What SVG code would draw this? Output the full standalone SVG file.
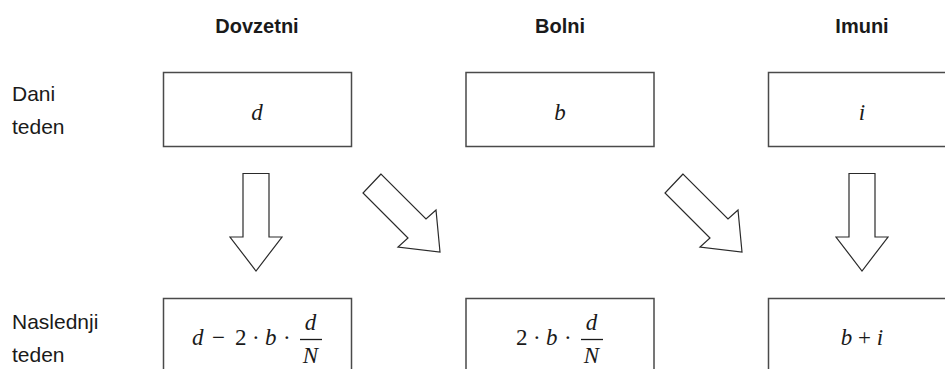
<svg xmlns="http://www.w3.org/2000/svg" width="945" height="369" viewBox="0 0 945 369">
<style>
.hdr{font-family:"Liberation Sans",Arial,sans-serif;font-weight:bold;font-size:20px;fill:#1a1a1a;text-anchor:middle}
.lbl{font-family:"Liberation Sans",Arial,sans-serif;font-size:21px;fill:#1a1a1a}
.box{fill:#fff;stroke:#4a4a4a;stroke-width:1.5}
.arr{fill:#fff;stroke:#2a2a2a;stroke-width:1.2;stroke-linejoin:miter}
.m{font-family:"Liberation Serif","Times New Roman",serif;font-size:23px;fill:#1a1a1a}
.mi{font-style:italic}
.bar{stroke:#1a1a1a;stroke-width:1.3}
</style>
<rect width="945" height="369" fill="#fff"/>
<g id="headers">
<text class="hdr" x="257" y="33">Dovzetni</text>
<text class="hdr" x="560" y="33">Bolni</text>
<text class="hdr" x="862" y="33">Imuni</text>
</g>
<g id="row-labels">
<text class="lbl" x="12" y="101">Dani</text>
<text class="lbl" x="12" y="134">teden</text>
<text class="lbl" x="12" y="329">Naslednji</text>
<text class="lbl" x="12" y="362">teden</text>
</g>
<g id="d">
<rect class="box" x="163.5" y="72.5" width="188" height="74"/>
<text class="m mi" x="257" y="120" text-anchor="middle">d</text>
</g>
<g id="b">
<rect class="box" x="466" y="72.5" width="188" height="74"/>
<text class="m mi" x="560" y="120" text-anchor="middle">b</text>
</g>
<g id="i">
<rect class="box" x="768.5" y="72.5" width="188" height="74"/>
<text class="m mi" x="862" y="120" text-anchor="middle">i</text>
</g>
<g id="d-next">
<rect class="box" x="163.5" y="298.5" width="188" height="80"/>
<text class="m" y="345"><tspan class="mi" x="192">d</tspan><tspan x="212">−</tspan><tspan x="235">2</tspan><tspan x="252">·</tspan><tspan class="mi" x="265">b</tspan><tspan x="283">·</tspan></text>
<text class="m mi" x="310.5" y="330" text-anchor="middle">d</text>
<line class="bar" x1="300" y1="339.5" x2="322" y2="339.5"/>
<text class="m mi" x="310.5" y="363" text-anchor="middle">N</text>
</g>
<g id="b-next">
<rect class="box" x="466" y="298.5" width="188" height="80"/>
<text class="m" y="345"><tspan x="516">2</tspan><tspan x="533">·</tspan><tspan class="mi" x="546">b</tspan><tspan x="564">·</tspan></text>
<text class="m mi" x="591.5" y="330" text-anchor="middle">d</text>
<line class="bar" x1="581" y1="339.5" x2="603" y2="339.5"/>
<text class="m mi" x="591.5" y="363" text-anchor="middle">N</text>
</g>
<g id="i-next">
<rect class="box" x="768.5" y="298.5" width="188" height="80"/>
<text class="m" x="862" y="345" text-anchor="middle"><tspan class="mi">b</tspan> + <tspan class="mi">i</tspan></text>
</g>
<g id="connectors">
<polygon class="arr" points="243,173.5 269,173.5 269,237 282,237 256,271 230,237 243,237"/>
<polygon class="arr" points="381,174 363,193 408,238 398,247 440,252 436,210 426,219"/>
<polygon class="arr" points="683,174 665,193 710,238 700,247 742,252 738,210 728,219"/>
<polygon class="arr" points="849,173.5 875,173.5 875,237 888,237 862,271 836,237 849,237"/>
</g>
</svg>
